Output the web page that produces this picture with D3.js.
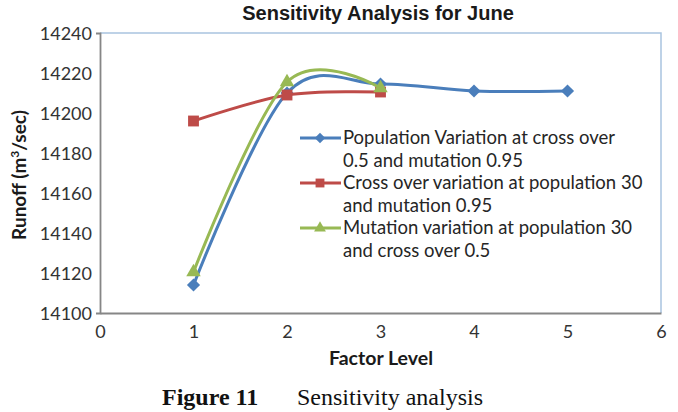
<!DOCTYPE html>
<html><head><meta charset="utf-8">
<script src="https://cdn.jsdelivr.net/npm/d3@7"></script>
<style>body{margin:0;background:#fff}svg{display:block}</style>
</head><body>
<svg id="c" width="678" height="412"></svg>
<script>
const xTicks = [0,1,2,3,4,5,6];
const yTicks = [14100,14120,14140,14160,14180,14200,14220,14240];
const popX = [1,2,3,4,5];
const popY = [14114,14210,14214.5,14211,14211];
const crossX = [1,2,3];
const crossY = [14196,14209,14210.5];
const mutX = [1,2,3];
const mutY = [14120.5,14215.5,14212.5];
const seriesNames = [
  ["Population Variation at cross over","0.5 and mutation 0.95"],
  ["Cross over variation at population 30","and mutation 0.95"],
  ["Mutation variation at population 30","and cross over 0.5"]
];
const colors = ["#4a7ebb","#be4b48","#98b954"];
const symbols = [d3.symbolDiamond2, d3.symbolSquare2, d3.symbolTriangle2];

const svg = d3.select("#c");
const L=100,T=33,R=661,B=313;
const x = d3.scaleLinear().domain([0,6]).range([L,R]);
const y = d3.scaleLinear().domain([14100,14240]).range([B,T]);
const font = "Lato, 'Open Sans', sans-serif";

// title
svg.append("text").attr("x",378).attr("y",20).attr("text-anchor","middle")
  .attr("font-family","'Liberation Sans', Arial, sans-serif").attr("font-weight","bold")
  .attr("font-size",20).attr("fill","#1a1a1a").text("Sensitivity Analysis for June");

// plot border (top/right light blue)
svg.append("path").attr("d",`M${L},${T}H${R}V${B}`).attr("fill","none").attr("stroke","#a9c4e0").attr("stroke-width",1.5);

// axes
const yAxis = svg.append("g").attr("transform",`translate(${L},0)`)
  .call(d3.axisLeft(y).tickValues(yTicks).tickSize(4).tickFormat(d3.format("d")));
const xAxis = svg.append("g").attr("transform",`translate(0,${B})`)
  .call(d3.axisBottom(x).tickValues(xTicks).tickSize(0).tickFormat(d3.format("d")));
[yAxis,xAxis].forEach(a=>{
  a.select(".domain").attr("stroke","#868686").attr("stroke-width",1.8);
  a.selectAll("text").attr("font-family",font).attr("font-size",18).attr("fill","#333");
});
yAxis.selectAll(".tick line").remove();
yAxis.selectAll("text").attr("x",-8).attr("dy","0.36em");
xAxis.selectAll("text").attr("dy","0").attr("y",25);

// axis titles
svg.append("text").attr("transform",`translate(26,175) rotate(-90)`).attr("text-anchor","middle")
  .attr("font-family",font).attr("font-weight","bold").attr("font-size",19).attr("fill","#1a1a1a")
  .call(t=>{t.append("tspan").text("Runoff (m");t.append("tspan").attr("font-size",12).attr("dy",-7).text("3");t.append("tspan").attr("dy",7).text("/sec)");});
svg.append("text").attr("x",381).attr("y",365).attr("text-anchor","middle")
  .attr("font-family",font).attr("font-weight","bold").attr("font-size",19.5).attr("fill","#1a1a1a").text("Factor Level");

// series
const seriesData = [
  popX.map((v,i)=>[v,popY[i]]),
  crossX.map((v,i)=>[v,crossY[i]]),
  mutX.map((v,i)=>[v,mutY[i]])
];
const line = d3.line().x(d=>x(d[0])).y(d=>y(d[1])).curve(d3.curveCardinal.tension(0));
const sizes=[110,150,150];
seriesData.forEach((s,i)=>{
  svg.append("path").datum(s).attr("d",line).attr("fill","none").attr("stroke",colors[i]).attr("stroke-width",3);
  svg.selectAll(null).data(s).enter().append("path")
    .attr("transform",d=>`translate(${x(d[0])},${y(d[1])})`)
    .attr("d",d3.symbol().type(symbols[i]).size(sizes[i])).attr("fill",colors[i]);
});

// legend
const legY=[138,183,228];
seriesNames.forEach((nm,i)=>{
  const g=svg.append("g");
  g.append("line").attr("x1",300).attr("x2",341).attr("y1",legY[i]).attr("y2",legY[i]).attr("stroke",colors[i]).attr("stroke-width",3);
  g.append("path").attr("transform",`translate(320,${legY[i]})`).attr("d",d3.symbol().type(symbols[i]).size(i==0?70:100)).attr("fill",colors[i]);
  nm.forEach((t,j)=>g.append("text").attr("x",343).attr("y",legY[i]+6+j*23)
    .attr("font-family",font).attr("font-size",18.5).attr("fill","#262626").text(t));
});

// caption
svg.append("text").attr("x",162).attr("y",405).attr("font-family","'Liberation Serif', 'Times New Roman', serif")
  .attr("font-size",24).attr("fill","#111")
  .call(t=>{t.append("tspan").attr("font-weight","bold").text("Figure 11");t.append("tspan").attr("x",297).text("Sensitivity analysis");});
</script>
</body></html>
